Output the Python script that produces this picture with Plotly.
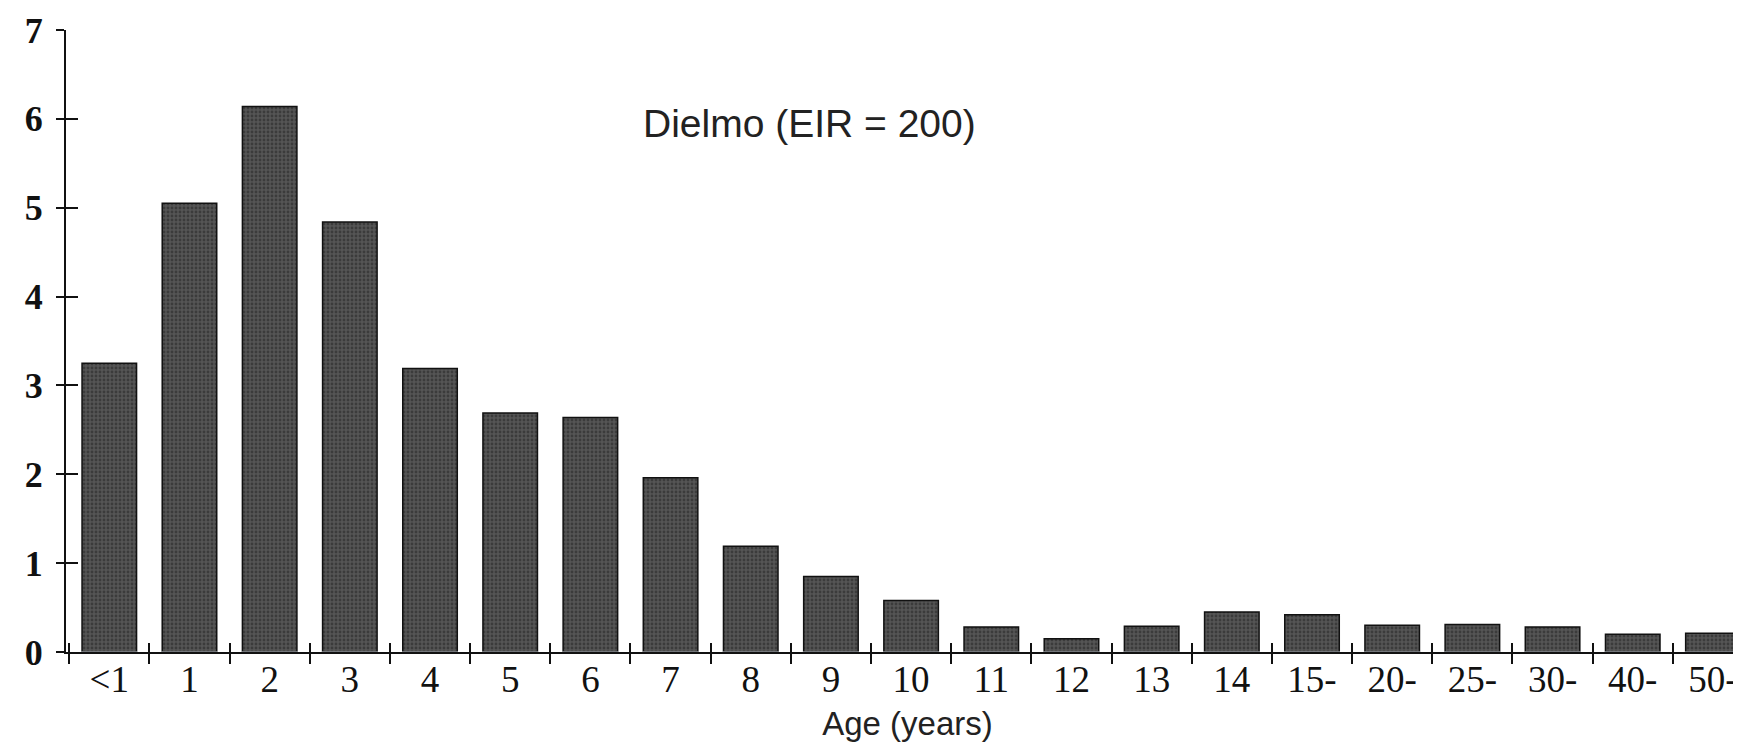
import plotly.graph_objects as go

categories = ["<1", "1", "2", "3", "4", "5", "6", "7", "8", "9", "10",
              "11", "12", "13", "14", "15-", "20-", "25-", "30-", "40-", "50-"]
values = [3.25, 5.05, 6.14, 4.84, 3.19, 2.69, 2.64, 1.96, 1.19, 0.85, 0.58,
          0.28, 0.15, 0.29, 0.45, 0.42, 0.30, 0.31, 0.28, 0.20, 0.21]
y_ticks = [0, 1, 2, 3, 4, 5, 6, 7]
title_text = "Dielmo (EIR = 200)"
x_title = "Age (years)"

fig = go.Figure()
fig.add_trace(go.Bar(
    x=categories, y=values, width=0.68,
    marker=dict(color="#444444", line=dict(color="#111111", width=1.5),
                pattern=dict(shape=".", fgcolor="#222222", bgcolor="#555555", size=4, solidity=0.4)),
    showlegend=False,
))
fig.add_trace(go.Bar(x=categories, y=[0]*len(categories), xaxis="x2", yaxis="y2",
                     showlegend=False, hoverinfo="skip", marker=dict(color="rgba(0,0,0,0)")))

xr = [-0.54, 20.45]
fig.update_layout(
    width=1741, height=744,
    paper_bgcolor="white", plot_bgcolor="white",
    margin=dict(l=58, r=0, t=22, b=100),
    bargap=0.3,
    xaxis=dict(type="category", range=xr, showgrid=False, zeroline=False,
               showline=True, linecolor="#111", linewidth=2,
               ticks="outside", tickson="boundaries", ticklen=10, tickwidth=2, tickcolor="#111",
               ticklabelstandoff=-6,
               tickfont=dict(family="Liberation Serif", size=37, color="#111"),
               title=dict(text=x_title, font=dict(family="Liberation Sans", size=33, color="#222"), standoff=12)),
    xaxis2=dict(type="category", range=xr, overlaying="x", matches="x", showgrid=False, zeroline=False,
                showline=False, ticks="inside", tickson="boundaries", ticklen=9, tickwidth=2,
                tickcolor="#111", showticklabels=False),
    yaxis=dict(range=[0, 7], tickvals=y_ticks, showgrid=False, zeroline=False,
               showline=True, linecolor="#111", linewidth=2,
               ticks="outside", ticklen=8, tickwidth=2, tickcolor="#111",
               ticklabelstandoff=6,
               tickfont=dict(family="Liberation Serif", size=36, color="#111", weight="bold")),
    yaxis2=dict(range=[0, 7], tickvals=y_ticks, overlaying="y", matches="y", showgrid=False,
                zeroline=False, showline=False, ticks="inside", ticklen=12, tickwidth=2,
                tickcolor="#111", showticklabels=False),
    annotations=[dict(text=title_text, x=8.73, y=5.95, xref="x", yref="y", showarrow=False,
                      font=dict(family="Liberation Sans", size=39, color="#222"))],
)

fig.write_html("out.html")
